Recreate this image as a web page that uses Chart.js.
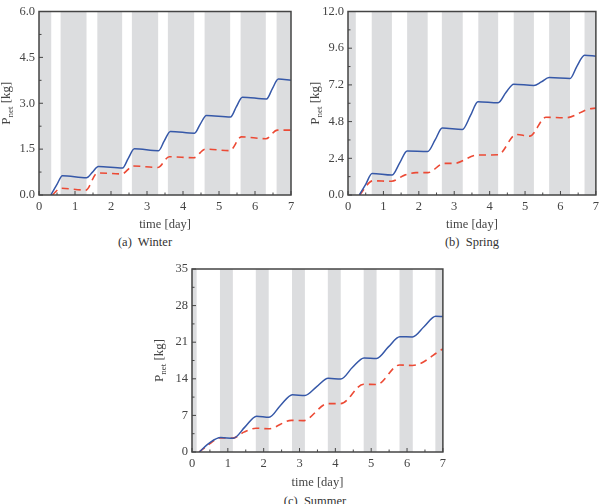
<!DOCTYPE html>
<html>
<head>
<title>P_net per season</title>
<script src="https://cdn.jsdelivr.net/npm/chart.js@4.4.1/dist/chart.umd.min.js"></script>
<style>
  body { margin: 0; background: #fff; }
  .box { position: absolute; }
  .cap { position: absolute; font-family: "Liberation Serif", serif; font-size: 12.5px; color: #333; transform: translate(-50%, -50%); white-space: pre; }
</style>
</head>
<body>

<div class="box" style="left:0px; top:0px; width:300px; height:232px;"><canvas id="winter"></canvas></div>
<div class="box" style="left:300px; top:0px; width:303px; height:232px;"><canvas id="spring"></canvas></div>
<div class="box" style="left:150px; top:255px; width:300px; height:235px;"><canvas id="summer"></canvas></div>

<div class="cap" style="left:145px; top:242px;">(a)  Winter</div>
<div class="cap" style="left:472px; top:242px;">(b)  Spring</div>
<div class="cap" style="left:315px; top:501px;">(c)  Summer</div>

<script>
// ---- data ----
var xTicks = [0, 1, 2, 3, 4, 5, 6, 7];

// winter
var winterNights = [[0, 0.34], [0.6, 1.32], [1.62, 2.31], [2.58, 3.31], [3.58, 4.31], [4.6, 5.31], [5.6, 6.3], [6.6, 7]];
var winterBlueT = [0.33, 0.5, 0.65, 1.32, 1.48, 1.65, 2.32, 2.48, 2.65, 3.32, 3.48, 3.65, 4.32, 4.48, 4.65, 5.32, 5.48, 5.65, 6.32, 6.48, 6.65, 7];
var winterBlue  = [0, 0.35, 0.63, 0.56, 0.74, 0.93, 0.88, 1.2, 1.51, 1.45, 1.77, 2.08, 2.02, 2.32, 2.6, 2.55, 2.88, 3.2, 3.14, 3.47, 3.79, 3.75];
var winterRedT  = [0.37, 0.6, 1.3, 1.62, 2.3, 2.62, 3.3, 3.62, 4.3, 4.62, 5.3, 5.62, 6.3, 6.62, 7];
var winterRed   = [0, 0.22, 0.16, 0.72, 0.69, 0.95, 0.9, 1.25, 1.22, 1.5, 1.45, 1.9, 1.84, 2.12, 2.12];
var winterYTicks = [0, 1.5, 3.0, 4.5, 6.0];

// spring
var springNights = [[0, 0.22], [0.67, 1.24], [1.67, 2.25], [2.65, 3.24], [3.68, 4.24], [4.68, 5.25], [5.68, 6.27], [6.68, 7]];
var springBlueT = [0.32, 0.5, 0.68, 1.24, 1.46, 1.67, 2.25, 2.46, 2.66, 3.23, 3.46, 3.67, 4.24, 4.46, 4.68, 5.25, 5.46, 5.68, 6.27, 6.46, 6.68, 7];
var springBlue  = [0, 0.7, 1.41, 1.3, 2.1, 2.88, 2.84, 3.6, 4.38, 4.28, 5.2, 6.1, 6.03, 6.7, 7.25, 7.16, 7.4, 7.68, 7.62, 8.4, 9.14, 9.08];
var springRedT  = [0.33, 0.7, 1.23, 1.6, 1.92, 2.25, 2.72, 3.0, 3.64, 4.24, 4.75, 5.13, 5.59, 6.15, 6.8, 7];
var springRed   = [0, 0.93, 0.9, 1.3, 1.46, 1.46, 2.07, 2.07, 2.61, 2.63, 3.96, 3.85, 5.08, 5.05, 5.62, 5.68];
var springYTicks = [0, 2.4, 4.8, 7.2, 9.6, 12.0];

// summer
var summerNights = [[0, 0.13], [0.78, 1.14], [1.78, 2.14], [2.79, 3.15], [3.79, 4.15], [4.79, 5.15], [5.79, 6.16], [6.79, 7]];
var summerBlueT = [0.2, 0.5, 0.8, 1.15, 1.48, 1.8, 2.15, 2.48, 2.8, 3.15, 3.48, 3.8, 4.15, 4.48, 4.8, 5.15, 5.48, 5.8, 6.15, 6.48, 6.8, 7];
var summerBlue  = [0, 1.8, 2.75, 2.62, 4.8, 6.85, 6.65, 9.0, 10.95, 10.8, 12.5, 14.1, 13.95, 16.2, 18.0, 17.9, 20.1, 22.05, 22.0, 24.0, 25.95, 25.9];
var summerRedT  = [0.2, 0.5, 0.78, 1.14, 1.45, 1.79, 2.14, 2.77, 3.1, 3.79, 4.15, 4.79, 5.15, 5.79, 6.15, 7];
var summerRed   = [0, 1.6, 2.7, 2.65, 3.8, 4.55, 4.45, 6.05, 6.0, 9.25, 9.25, 12.95, 12.9, 16.65, 16.55, 19.7];
var summerYTicks = [0, 7, 14, 21, 28, 35];

var serif = '"Liberation Serif", "DejaVu Serif", serif';
var textColor = '#444';

function pts(t, v) {
    var out = [];
    for (var i = 0; i < t.length; i++) out.push({x: t[i], y: v[i]});
    return out;
}

// night bands, frame, inward ticks and the P_net title
var decorPlugin = {
    id: 'decor',
    beforeDatasetsDraw: function(chart) {
        var ctx = chart.ctx, a = chart.chartArea, xs = chart.scales.x;
        ctx.save();
        ctx.fillStyle = '#dcdddf';
        chart.options.nights.forEach(function(n) {
            var x0 = xs.getPixelForValue(n[0]), x1 = xs.getPixelForValue(n[1]);
            ctx.fillRect(x0, a.top, x1 - x0, a.bottom - a.top);
        });
        ctx.restore();
    },
    afterDraw: function(chart) {
        var ctx = chart.ctx, a = chart.chartArea, xs = chart.scales.x, ys = chart.scales.y;
        ctx.save();
        ctx.strokeStyle = '#444';
        ctx.lineWidth = 1;
        // x ticks
        for (var d = 0; d <= 7; d += 0.5) {
            var px = xs.getPixelForValue(d);
            var len = (d % 1 === 0) ? 4 : 2.5;
            ctx.beginPath(); ctx.moveTo(px, a.bottom); ctx.lineTo(px, a.bottom - len); ctx.stroke();
        }
        // y ticks
        var yt = chart.options.yTicks;
        for (var i = 0; i < yt.length; i++) {
            var py = ys.getPixelForValue(yt[i]);
            ctx.beginPath(); ctx.moveTo(a.left, py); ctx.lineTo(a.left + 4, py); ctx.stroke();
            if (i < yt.length - 1) {
                var pm = ys.getPixelForValue((yt[i] + yt[i + 1]) / 2);
                ctx.beginPath(); ctx.moveTo(a.left, pm); ctx.lineTo(a.left + 2.5, pm); ctx.stroke();
            }
        }
        // frame
        ctx.lineWidth = 1.5;
        ctx.strokeRect(a.left, a.top, a.right - a.left, a.bottom - a.top);

        // y title with subscript
        var cx = a.left - 32, cy = (a.top + a.bottom) / 2;
        ctx.translate(cx, cy);
        ctx.rotate(-Math.PI / 2);
        ctx.fillStyle = textColor;
        ctx.textBaseline = 'middle';
        ctx.textAlign = 'left';
        var big = '13px ' + serif, small = '9px ' + serif;
        ctx.font = big; var w1 = ctx.measureText('P').width; var w3 = ctx.measureText(' [kg]').width;
        ctx.font = small; var w2 = ctx.measureText('net').width;
        var x = -(w1 + w2 + w3) / 2;
        ctx.font = big; ctx.fillText('P', x, 0);
        ctx.font = small; ctx.fillText('net', x + w1, 4);
        ctx.font = big; ctx.fillText(' [kg]', x + w1 + w2, 0);
        ctx.restore();
    }
};

function makeChart(id, nights, blue, red, yMax, yTicks, fmt, yWidth, xHeight, pad) {
    return new Chart(document.getElementById(id), {
        type: 'line',
        data: {
            datasets: [{
                data: blue,
                borderColor: '#3658a8',
                borderWidth: 1.5,
                pointRadius: 0,
                cubicInterpolationMode: 'monotone',
                fill: false
            },
            {
                data: red,
                borderColor: '#ec4a35',
                borderWidth: 1.6,
                borderDash: [7, 5],
                pointRadius: 0,
                cubicInterpolationMode: 'monotone',
                fill: false
            }]
        },
        options: {
            nights: nights,
            yTicks: yTicks,
            responsive: true,
            maintainAspectRatio: false,
            animation: false,
            layout: { padding: pad },
            plugins: { legend: { display: false }, tooltip: { enabled: false } },
            scales: {
                x: {
                    type: 'linear',
                    min: 0, max: 7,
                    afterBuildTicks: function(s) { s.ticks = xTicks.map(function(v) { return {value: v}; }); },
                    afterFit: function(s) { s.height = xHeight; },
                    grid: { display: false, drawTicks: false },
                    border: { display: false },
                    ticks: { padding: 4, color: textColor, font: { family: serif, size: 12.5 }, maxRotation: 0 },
                    title: { display: true, text: 'time [day]', color: textColor, padding: 0, font: { family: serif, size: 12.5 } }
                },
                y: {
                    min: 0, max: yMax,
                    afterBuildTicks: function(s) { s.ticks = yTicks.map(function(v) { return {value: v}; }); },
                    afterFit: function(s) { s.width = yWidth; },
                    grid: { display: false, drawTicks: false },
                    border: { display: false },
                    ticks: { padding: 4, color: textColor, font: { family: serif, size: 12.5 }, callback: fmt }
                }
            }
        },
        plugins: [decorPlugin]
    });
}

var oneDec = function(v) { return v.toFixed(1); };
var noDec = function(v) { return v.toFixed(0); };

makeChart('winter', winterNights, pts(winterBlueT, winterBlue), pts(winterRedT, winterRed), 6, winterYTicks, oneDec, 39, 37, {top: 11, right: 9, left: 0, bottom: 0});
makeChart('spring', springNights, pts(springBlueT, springBlue), pts(springRedT, springRed), 12, springYTicks, oneDec, 48, 37, {top: 11, right: 4, left: 0, bottom: 0});
makeChart('summer', summerNights, pts(summerBlueT, summerBlue), pts(summerRedT, summerRed), 35, summerYTicks, noDec, 42, 38, {top: 14, right: 6, left: 0, bottom: 0});
</script>
</body>
</html>
